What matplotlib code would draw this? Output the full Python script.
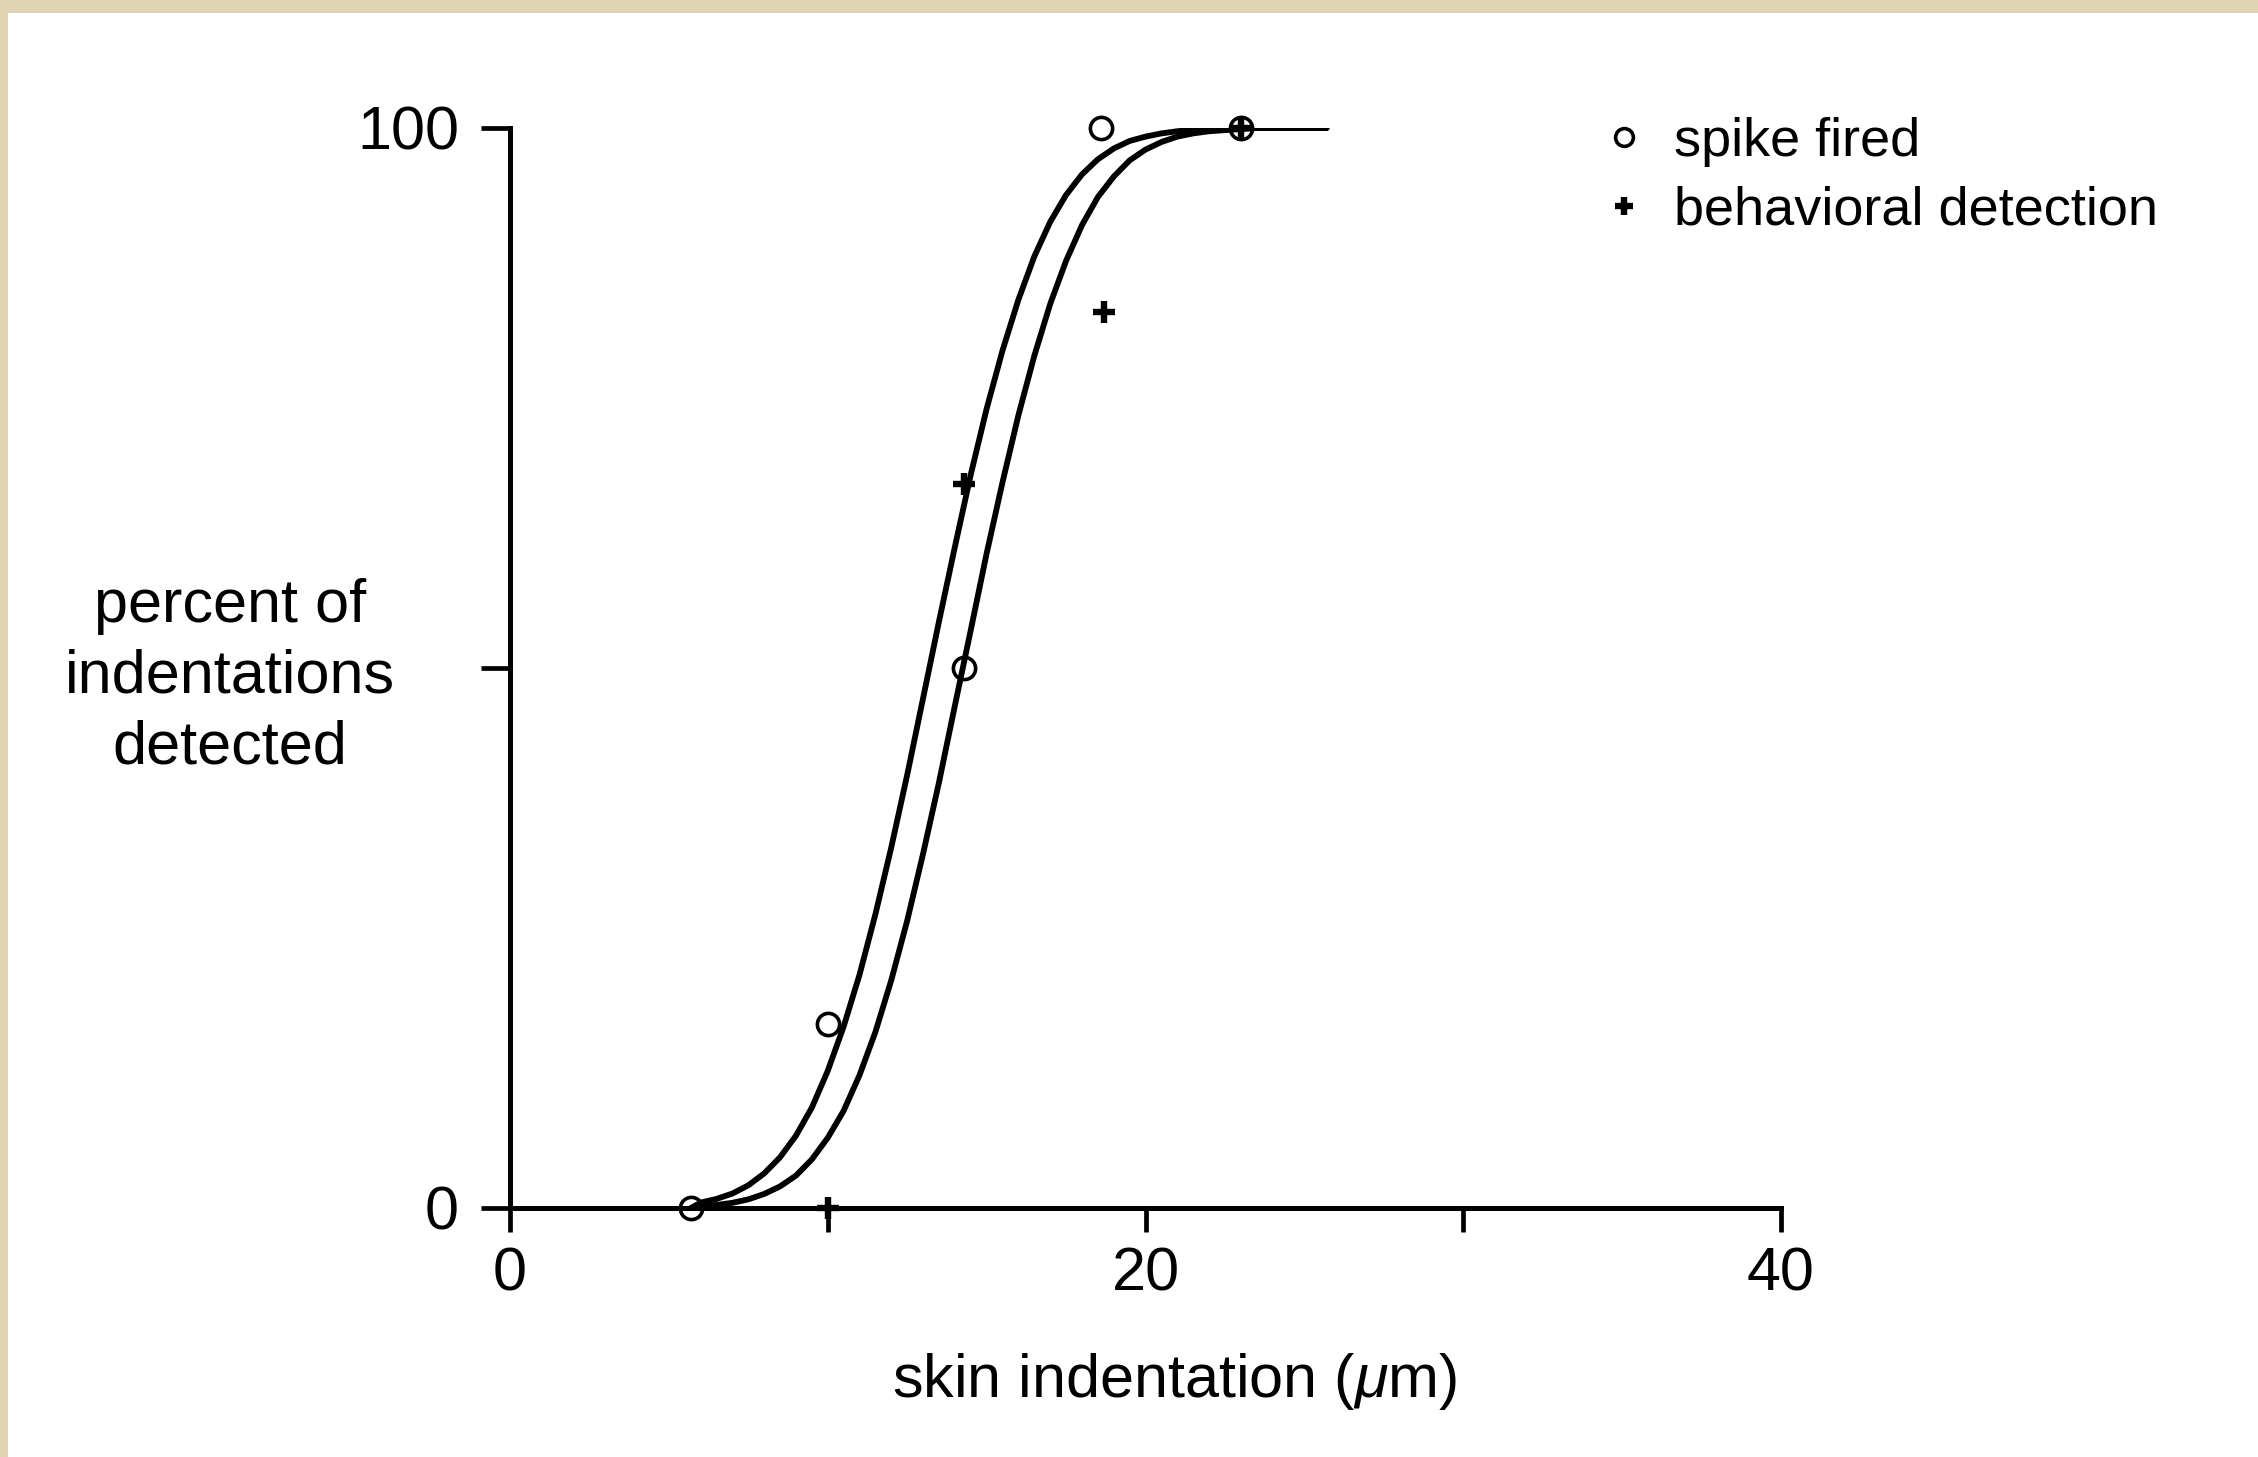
import matplotlib
matplotlib.use('Agg')
import matplotlib.pyplot as plt
from matplotlib.patches import Rectangle

plt.rcParams['font.family'] = ['Liberation Sans', 'DejaVu Sans']
plt.rcParams['mathtext.fontset'] = 'custom'
plt.rcParams['mathtext.rm'] = 'Liberation Sans'
plt.rcParams['mathtext.it'] = 'Liberation Sans:italic'

# measured points (skin indentation in um, percent detected)
spike_x = [5.7, 10.0, 14.3, 18.6, 23.0]
spike_y = [0, 17, 50, 100, 100]
behav_x = [10.0, 14.3, 18.7, 23.0]
behav_y = [0, 67, 83, 100]

# fitted curves, every 0.5 um
curve_x = [5.7, 6.0, 6.5, 7.0, 7.5, 8.0, 8.5, 9.0, 9.5, 10.0, 10.5,
           11.0, 11.5, 12.0, 12.5, 13.0, 13.5, 14.0, 14.5, 15.0, 15.5,
           16.0, 16.5, 17.0, 17.5, 18.0, 18.5, 19.0, 19.5, 20.0, 20.5,
           21.0, 21.5, 22.0, 22.5, 23.0, 23.5, 24.0, 24.5, 25.0, 25.7]
spike_curve = [0.0, 0.5, 0.84, 1.34, 2.1, 3.2, 4.7, 6.7, 9.3, 12.7, 16.8,
               21.6, 27.2, 33.4, 40.1, 47.2, 54.3, 61.2, 67.9, 74.0, 79.4,
               84.1, 88.1, 91.3, 93.8, 95.7, 97.1, 98.1, 98.8, 99.2, 99.5,
               99.7, 99.85, 99.9, 99.95, 100, 100, 100, 100, 100, 100]
behav_curve = [0.0, 0.16, 0.28, 0.48, 0.8, 1.3, 2.0, 3.0, 4.5, 6.5, 9.0,
               12.3, 16.3, 21.1, 26.6, 32.8, 39.4, 46.5, 53.5, 60.6, 67.2,
               73.4, 78.9, 83.7, 87.7, 91.0, 93.6, 95.5, 97.0, 98.0, 98.7,
               99.2, 99.5, 99.7, 99.8, 99.9, 100, 100, 100, 100, 100]

x_ticks = [0, 10, 20, 30, 40]
x_labels = ['0', '', '20', '', '40']
y_ticks = [0, 50, 100]
y_labels = ['0', '', '100']

W, H = 2258, 1457
fig = plt.figure(figsize=(W / 200, H / 200), dpi=200)
fig.patch.set_facecolor('#e2d3b5')
fig.add_artist(Rectangle((8 / W, 0), 1, 1 - 13 / H, transform=fig.transFigure,
                         facecolor='white', edgecolor='none', zorder=-10))

ax = fig.add_axes([510 / W, 1 - 1208 / H, 1271 / W, 1080 / H])
ax.set_facecolor('none')

ax.plot(curve_x, spike_curve, color='black', lw=2.1, solid_capstyle='round', zorder=2)
ax.plot(curve_x, behav_curve, color='black', lw=2.1, solid_capstyle='round', zorder=2)

ax.plot(spike_x, spike_y, 'o', ms=8, mfc='none', mec='black', mew=1.3,
        clip_on=False, zorder=4, label='spike fired')
ax.plot(behav_x, behav_y, '+', ms=8, mec='black', mew=2.3,
        clip_on=False, zorder=4, label='behavioral detection')

ax.set_xlim(0, 40)
ax.set_ylim(0, 100)
ax.set_xticks(x_ticks)
ax.set_xticklabels(x_labels)
ax.set_yticks(y_ticks)
ax.set_yticklabels(y_labels)

for s in ['top', 'right']:
    ax.spines[s].set_visible(False)
for s in ['left', 'bottom']:
    ax.spines[s].set_linewidth(1.8)
ax.tick_params(axis='x', direction='out', length=8.8, width=1.7, pad=5, labelsize=22)
ax.tick_params(axis='y', direction='out', length=10.4, width=1.7, pad=8, labelsize=22)

ax.set_xlabel(r'skin indentation ($\mathit{\mu}$m)', fontsize=22)
ax.xaxis.set_label_coords((1175 - 510) / 1271, -(1382 - 1208) / 1080)
ax.xaxis.label.set_va('center')

fig.text(230 / W, 1 - 677 / H, 'percent of\nindentations\ndetected', fontsize=22,
         ha='center', va='center', multialignment='center', linespacing=1.31)

ax.legend(loc='upper left', bbox_to_anchor=(1608 / W, 1 - 117 / H),
          bbox_transform=fig.transFigure, frameon=False, fontsize=19.5,
          markerscale=0.8, handlelength=0.6, handletextpad=0.61,
          borderpad=0, borderaxespad=0, labelspacing=0.35)

fig.savefig('out.png', dpi=200)
